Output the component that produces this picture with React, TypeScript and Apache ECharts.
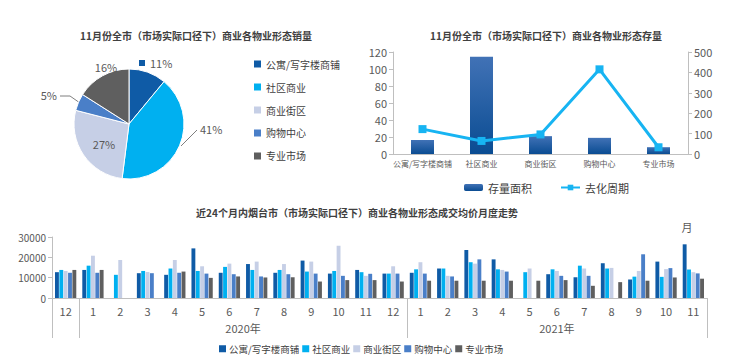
import React, { useEffect, useRef } from "react";
import * as echarts from "echarts";

const typeNames = ["公寓/写字楼商铺", "社区商业", "商业街区", "购物中心", "专业市场"];
const typeColors = ["#0f5ba6", "#00b0f0", "#c6cfe6", "#4a7fc8", "#5f5f5f"];

// Pie: November sales share (%)
const salesShare = [11, 41, 27, 5, 16];

// Stock chart
const stockArea = [16.5, 114.5, 21, 19, 8];
const sellCycle = [122, 64, 96, 415, 33];

// 24-month average price
const months = ["12", "1", "2", "3", "4", "5", "6", "7", "8", "9", "10", "11", "12", "1", "2", "3", "4", "5", "6", "7", "8", "9", "10", "11"];
const yearLabels = ["2020年", "2021年"];
const priceApartment = [12700, 13800, null, 12200, 11400, 24400, 12400, 16700, 12400, 18400, 12000, 13800, 12000, 12400, 14500, 23600, 19000, null, 11700, 10200, 17100, 9100, 17900, 26400];
const priceCommunity = [13800, 15900, 11400, 13300, 14500, 13300, 15300, 13800, 13800, 13000, 13300, 12700, 12000, 14100, 14500, 17600, 14100, 12700, 14100, 15900, 14500, 10500, 10400, 14000];
const priceStreet = [13300, 20800, 18700, 12800, 18700, 15600, 16900, 17900, 16700, 17900, 25700, 10900, 15600, 17600, 10900, 16900, 13800, 14500, 13300, 14500, 14800, 13300, 14200, 12700];
const priceMall = [12400, 12400, null, 12200, 12400, 12000, 11700, 10600, 11700, 12000, 10900, 11900, 12000, 12000, 10600, 19000, 13000, null, 10900, 10900, null, 21500, 14700, 12100];
const priceMarket = [13800, 13800, null, null, 13000, 9900, 10600, 10100, 10200, 8100, 8800, 8800, 8100, 8500, 8500, 8500, 8500, 8500, 8800, 6000, 7800, 8500, 10100, 9500];
const priceSeries = [priceApartment, priceCommunity, priceStreet, priceMall, priceMarket];

// pie label placement (style)
const pieLabelLayout = [
  { x: 139, y: 63, align: "left" },
  { x: 200, y: 129, align: "left", line: [[181, 146], [190, 137], [197, 130]] },
  { x: 104, y: 144, align: "center", line: [[82, 144], [84, 144], [87, 144]] },
  { x: 57, y: 95, align: "right", line: [[80, 103], [70, 96], [60, 96]] },
  { x: 106, y: 67, align: "center" },
];

export default function App() {
  const ref = useRef<HTMLDivElement>(null);
  useEffect(() => {
    if (!ref.current) return;
    const chart = echarts.init(ref.current, null, { renderer: "svg" });
    const font = "'Noto Sans CJK SC', 'Noto Sans', sans-serif";
    const axisGray = "#bfbfbf";
    const labelGray = "#595959";

    // year-level axis: half-slot positions (49)
    const yearSlots: string[] = [];
    for (let i = 0; i <= 48; i++) yearSlots.push("");
    yearSlots[14] = yearLabels[0];
    yearSlots[37] = yearLabels[1];
    const yearTickIdx = [0, 2, 26, 48];

    const barGrad = new echarts.graphic.LinearGradient(0, 0, 0, 1, [
      { offset: 0, color: "#4172b6" },
      { offset: 1, color: "#0a4c92" },
    ]);

    const option: any = {
      animation: false,
      backgroundColor: "#ffffff",
      textStyle: { fontFamily: font },
      graphic: [
        { type: "text", z: 10, x: 196, y: 35, style: { text: "11月份全市（市场实际口径下）商业各物业形态销量", fontSize: 10, fontWeight: "bold", fill: "#404040", textAlign: "center", textVerticalAlign: "middle", fontFamily: font } },
        { type: "text", z: 10, x: 546, y: 35, style: { text: "11月份全市（市场实际口径下）商业各物业形态存量", fontSize: 10, fontWeight: "bold", fill: "#404040", textAlign: "center", textVerticalAlign: "middle", fontFamily: font } },
        { type: "text", z: 10, x: 357, y: 212, style: { text: "近24个月内烟台市（市场实际口径下）商业各物业形态成交均价月度走势", fontSize: 10, fontWeight: "bold", fill: "#404040", textAlign: "center", textVerticalAlign: "middle", fontFamily: font } },
        { type: "text", z: 10, x: 687, y: 227, style: { text: "月", fontSize: 11, fill: labelGray, textAlign: "center", textVerticalAlign: "middle", fontFamily: font } },
      ],
      legend: [
        {
          data: typeNames,
          orient: "vertical",
          left: 249,
          top: 54,
          itemWidth: 7,
          itemHeight: 7,
          itemGap: 13,
          icon: "rect",
          textStyle: { fontSize: 10, color: "#404040" },
          selectedMode: false,
        },
        {
          data: ["存量面积", "去化周期"],
          left: 459,
          top: 177,
          itemGap: 28,
          itemWidth: 19,
          itemHeight: 7,
          textStyle: { fontSize: 11, color: "#404040" },
          selectedMode: false,
        },
        {
          data: typeNames,
          left: 214,
          top: 339,
          itemWidth: 7,
          itemHeight: 7,
          itemGap: 3,
          icon: "rect",
          textStyle: { fontSize: 9.5, color: "#404040", padding: [0, 0, 0, -2] },
          selectedMode: false,
        },
      ],
      grid: [
        { left: 393, right: 52, top: 52, bottom: 206 },
        { left: 52, right: 33, top: 237, bottom: 62 },
      ],
      xAxis: [
        {
          type: "category",
          gridIndex: 0,
          data: typeNames,
          axisLine: { lineStyle: { color: axisGray } },
          axisTick: { length: 4, lineStyle: { color: axisGray } },
          axisLabel: { fontSize: 8, color: labelGray, margin: 5, interval: 0 },
        },
        {
          type: "category",
          gridIndex: 1,
          data: months,
          axisLine: { lineStyle: { color: axisGray } },
          axisTick: { length: 20, interval: 0, lineStyle: { color: axisGray } },
          axisLabel: { fontSize: 11, color: labelGray, margin: 7, interval: 0 },
        },
        {
          type: "category",
          gridIndex: 1,
          position: "bottom",
          data: yearSlots,
          boundaryGap: false,
          axisLine: { show: false },
          axisTick: { length: 40, interval: (idx: number) => yearTickIdx.indexOf(idx) >= 0, lineStyle: { color: axisGray } },
          axisLabel: { fontSize: 11, color: labelGray, margin: 24, interval: (idx: number) => idx === 14 || idx === 37 },
        },
      ],
      yAxis: [
        {
          type: "value",
          gridIndex: 0,
          min: 0,
          max: 120,
          interval: 20,
          splitLine: { show: false },
          axisLine: { show: true, lineStyle: { color: axisGray } },
          axisTick: { show: true, length: 4, lineStyle: { color: axisGray } },
          axisLabel: { fontSize: 11, color: labelGray, margin: 6 },
        },
        {
          type: "value",
          gridIndex: 0,
          position: "right",
          min: 0,
          max: 500,
          interval: 100,
          splitLine: { show: false },
          axisLine: { show: true, lineStyle: { color: axisGray } },
          axisTick: { show: true, length: 4, lineStyle: { color: axisGray } },
          axisLabel: { fontSize: 11, color: labelGray, margin: 6 },
        },
        {
          type: "value",
          gridIndex: 1,
          min: 0,
          max: 30000,
          interval: 10000,
          splitLine: { show: false },
          axisLine: { show: true, lineStyle: { color: axisGray } },
          axisTick: { show: true, length: 4, lineStyle: { color: axisGray } },
          axisLabel: { fontSize: 10, color: labelGray, margin: 6, formatter: (v: number) => String(v) },
        },
      ],
      series: [
        {
          type: "pie",
          center: [129, 124],
          radius: 55,
          startAngle: 90,
          clockwise: true,
          z: 5,
          itemStyle: { borderColor: "#ffffff", borderWidth: 1 },
          label: {
            show: true,
            position: "outside",
            fontSize: 11,
            color: labelGray,
            formatter: (p: any) => (p.dataIndex === 0 ? "{sq|}  " + p.value + "%" : p.value + "%"),
            rich: { sq: { width: 6, height: 6, backgroundColor: typeColors[0] } },
          },
          labelLine: { show: true, lineStyle: { color: "#7f7f7f", width: 1 } },
          labelLayout: (params: any) => {
            const l = pieLabelLayout[params.dataIndex];
            const r: any = { x: l.x, y: l.y, align: l.align, verticalAlign: "middle" };
            if (l.line) r.labelLinePoints = l.line;
            return r;
          },
          data: typeNames.map((n, i) => ({
            name: n,
            value: salesShare[i],
            itemStyle: { color: typeColors[i] },
            labelLine: { show: !!pieLabelLayout[i].line },
          })),
        },
        {
          name: "存量面积",
          type: "bar",
          xAxisIndex: 0,
          yAxisIndex: 0,
          barWidth: 23,
          itemStyle: { color: barGrad },
          data: stockArea,
        },
        {
          name: "去化周期",
          type: "line",
          xAxisIndex: 0,
          yAxisIndex: 1,
          symbol: "rect",
          symbolSize: 8,
          lineStyle: { color: "#17b4f2", width: 3 },
          itemStyle: { color: "#17b4f2" },
          data: sellCycle,
          z: 4,
        },
        ...typeNames.map((n, i) => ({
          name: n,
          type: "bar",
          xAxisIndex: 1,
          yAxisIndex: 2,
          barGap: "12%",
          barCategoryGap: "22%",
          itemStyle: { color: typeColors[i] },
          data: priceSeries[i],
        })),
      ],
    };
    chart.setOption(option);
    return () => chart.dispose();
  }, []);
  return (
    <div
      ref={ref}
      style={{ position: "fixed", left: 0, top: 0, width: 740, height: 360, background: "#fff" }}
    />
  );
}
